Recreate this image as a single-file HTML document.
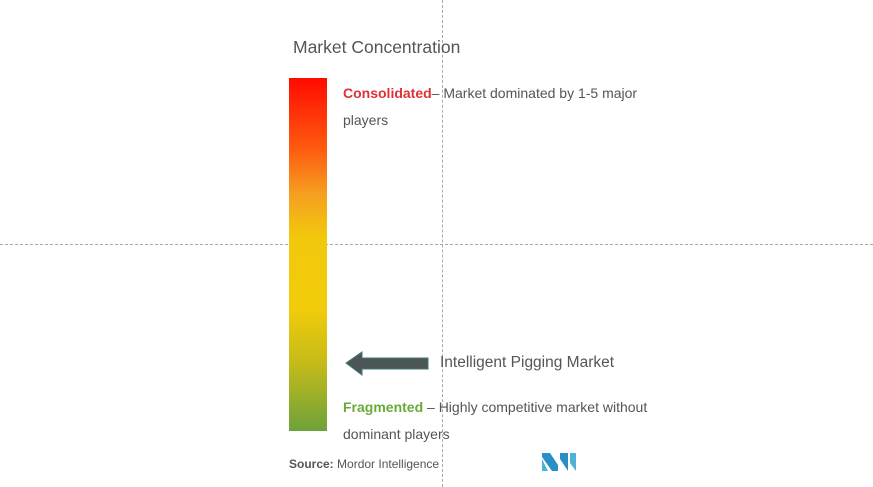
<!DOCTYPE html>
<html><head><meta charset="utf-8"><style>
body{margin:0;width:873px;height:487px;background:#fff;position:relative;overflow:hidden;font-family:"Liberation Sans",sans-serif;color:#555}
.a{position:absolute;white-space:nowrap}
</style></head><body>
<div class="a" style="left:442px;top:0;height:487px;border-left:1px dashed #aaa"></div>
<div class="a" style="left:0;top:244px;width:873px;border-top:1px dashed #aaa"></div>
<div class="a" style="left:293px;top:37px;font-size:17.5px;color:#555">Market Concentration</div>
<div class="a" style="left:289px;top:78px;width:38px;height:353px;background:linear-gradient(#ff0a00 0%,#ff5a10 20%,#f5a020 33%,#f2c80c 45%,#f2cc0a 65%,#c8bc18 80%,#6ea23a 100%)"></div>
<div class="a" style="left:343px;top:80px;font-size:14px;line-height:27px"><b style="color:#e0303a">Consolidated</b>– Market dominated by 1-5 major<br>players</div>
<svg class="a" style="left:344px;top:349px" width="90" height="30"><polygon points="2,14 18,3 18,9 84,9 84,20 18,20 18,26" fill="#4d5656" stroke="#3f7a78" stroke-width="1"/></svg>
<div class="a" style="left:440px;top:354px;font-size:15.5px">Intelligent Pigging Market</div>
<div class="a" style="left:343px;top:394px;font-size:14px;line-height:27px"><b style="color:#6aaa3a">Fragmented</b> – Highly competitive market without<br>dominant players</div>
<div class="a" style="left:289px;top:457px;font-size:12px"><b>Source:</b> Mordor Intelligence</div>
<svg class="a" style="left:542px;top:453px" width="36" height="18"><polygon points="0,0 8,0 16,12 16,18 10,18 0,4" fill="#2a8fc4"/><polygon points="0,6 6,18 0,18" fill="#4fb3d9"/><polygon points="18,0 26,0 26,18 18,6" fill="#2a8fc4"/><polygon points="28,0 34,0 34,18 28,10" fill="#4fb3d9"/></svg>
</body></html>
